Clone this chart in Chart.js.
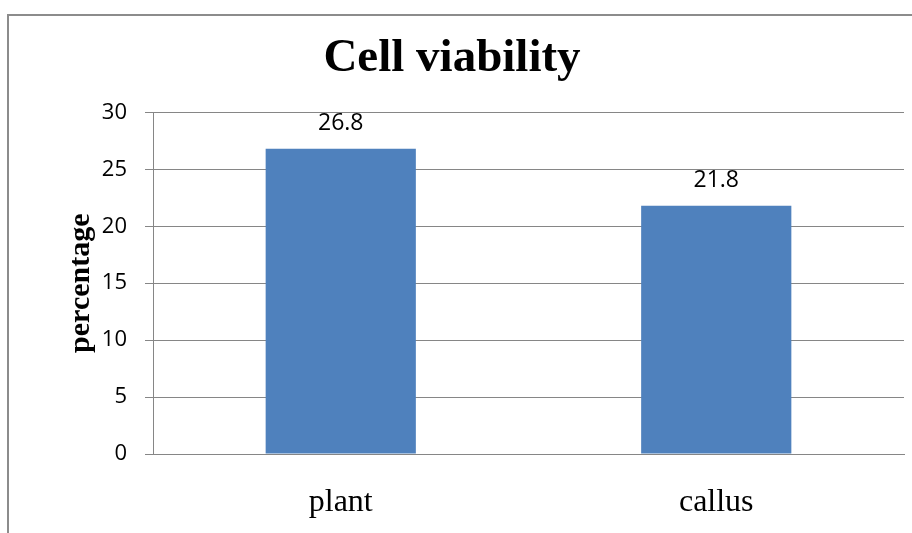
<!DOCTYPE html>
<html>
<head>
<meta charset="utf-8">
<script src="https://cdn.jsdelivr.net/npm/chart.js@4/dist/chart.umd.min.js"></script>
<style>
  html, body { margin: 0; padding: 0; background: #fff; overflow: hidden; }
  #wrap { position: relative; width: 912px; height: 533px; overflow: hidden; }
  #frame {
    position: absolute; left: 7px; top: 14px; width: 1000px; height: 600px;
    border-left: 2px solid #8c8c8c; border-top: 2px solid #8c8c8c;
    box-sizing: border-box; pointer-events: none;
  }
  canvas { position: absolute; left: 0; top: 0; }
</style>
</head>
<body>
<div id="wrap">
  <canvas id="chart" width="912" height="533"></canvas>
  <div id="frame"></div>
</div>
<script>
// Cell viability by tissue source
const categories = ['plant', 'callus'];
const viability = [26.8, 21.8];
const yTicks = [0, 5, 10, 15, 20, 25, 30];

const AXIS_GREY = '#868686';
const BAR_BLUE = '#4F81BD';

// Writes each bar's value just above it
const valueLabels = {
  id: 'valueLabels',
  afterDatasetsDraw(chart) {
    const ctx = chart.ctx;
    const meta = chart.getDatasetMeta(0);
    ctx.save();
    ctx.font = '23px "Open Sans", sans-serif';
    ctx.fillStyle = '#000';
    ctx.textAlign = 'center';
    ctx.textBaseline = 'alphabetic';
    meta.data.forEach((bar, i) => {
      ctx.fillText(String(chart.data.datasets[0].data[i]), bar.x, bar.y - 19);
    });
    ctx.restore();
  }
};

new Chart(document.getElementById('chart'), {
  type: 'bar',
  data: {
    labels: categories,
    datasets: [{
      label: 'percentage',
      data: viability,
      backgroundColor: BAR_BLUE,
      borderWidth: 0,
      barPercentage: 0.4,
      categoryPercentage: 1.0
    }]
  },
  options: {
    responsive: false,
    animation: false,
    devicePixelRatio: 1,
    layout: { padding: { left: 0, right: 8, top: 0, bottom: 0 } },
    plugins: {
      legend: { display: false },
      tooltip: { enabled: false },
      title: {
        display: true,
        text: 'Cell viability',
        color: '#000',
        font: { family: '"Liberation Serif", "Times New Roman", serif', size: 47, weight: 'bold' },
        padding: { top: 31, bottom: 25 }
      }
    },
    scales: {
      x: {
        grid: { display: false },
        border: { display: true, color: AXIS_GREY, width: 1 },
        ticks: {
          color: '#000',
          padding: 21,
          font: { family: '"Liberation Serif", "Times New Roman", serif', size: 32 }
        },
        afterFit(scale) { scale.height = 79; }
      },
      y: {
        min: 0,
        max: 30,
        afterBuildTicks(scale) { scale.ticks = yTicks.map(v => ({ value: v })); },
        grid: { color: AXIS_GREY, lineWidth: 1, tickLength: 8, drawTicks: true },
        border: { display: true, color: AXIS_GREY, width: 1 },
        ticks: {
          color: '#000',
          padding: 18,
          font: { family: '"Open Sans", sans-serif', size: 22 }
        },
        title: {
          display: true,
          text: 'percentage',
          color: '#000',
          font: { family: '"Liberation Serif", "Times New Roman", serif', size: 30, weight: 'bold' },
          padding: { top: 63, bottom: 0 }
        },
        afterFit(scale) { scale.width = 153; }
      }
    }
  },
  plugins: [valueLabels]
});
</script>
</body>
</html>
